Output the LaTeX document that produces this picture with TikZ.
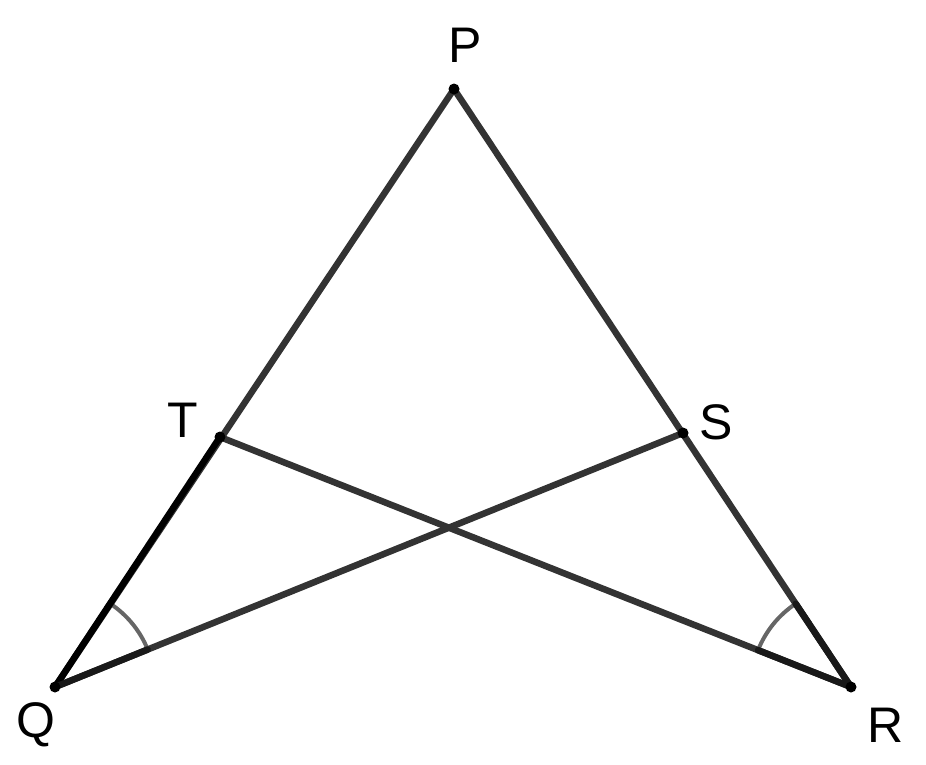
\documentclass[tikz,border=0pt]{standalone}
\usepackage{fontspec}
\setmainfont{Liberation Sans}
\usetikzlibrary{angles,calc}
\begin{document}
\begin{tikzpicture}[x=1pt,y=-1pt,
  seg/.style={line width=6.5pt,draw=black!80,line cap=round},
  dseg/.style={line width=6.5pt,draw=black,line cap=round},
  inseg/.style={line width=6.5pt,draw=black!90,line cap=round},
  arcmark/.style={draw=black!60,line width=4pt,angle radius=100pt},
  lbl/.style={font=\fontsize{50}{50}\selectfont,inner sep=0pt},
  dot/.style={circle,fill=black,inner sep=0pt,minimum size=11pt}]
\useasboundingbox (0,0) rectangle (926,764);
\coordinate (P) at (454,89);
\coordinate (Q) at (55,687);
\coordinate (R) at (851,687);
\coordinate (T) at (220,437);
\coordinate (S) at (683,433);
\coordinate (qs) at ($(Q)!100pt!(S)$);
\coordinate (rt) at ($(R)!100pt!(T)$);
\coordinate (rp) at ($(R)!100pt!(P)$);
\pic[arcmark] {angle = S--Q--T};
\pic[arcmark] {angle = P--R--T};
\draw[seg] (P) -- (Q);
\draw[seg] (P) -- (R);
\draw[seg] (Q) -- (S);
\draw[seg] (R) -- (T);
\draw[dseg] (Q) -- (T);
\draw[inseg] (Q) -- (qs);
\draw[inseg] (R) -- (rt);
\draw[inseg] (R) -- (rp);
\node[dot] (dP) at (P) {};
\node[dot] (dQ) at (Q) {};
\node[dot] (dR) at (R) {};
\node[dot] (dT) at (T) {};
\node[dot] (dS) at (S) {};
\node[lbl] (lP) at (465,45) {P};
\node[lbl] (lT) at (183,420) {T};
\node[lbl] (lS) at (716,422) {S};
\node[lbl] (lQ) at (36,725) {Q};
\node[lbl] (lR) at (886,725) {R};
\end{tikzpicture}
\end{document}
